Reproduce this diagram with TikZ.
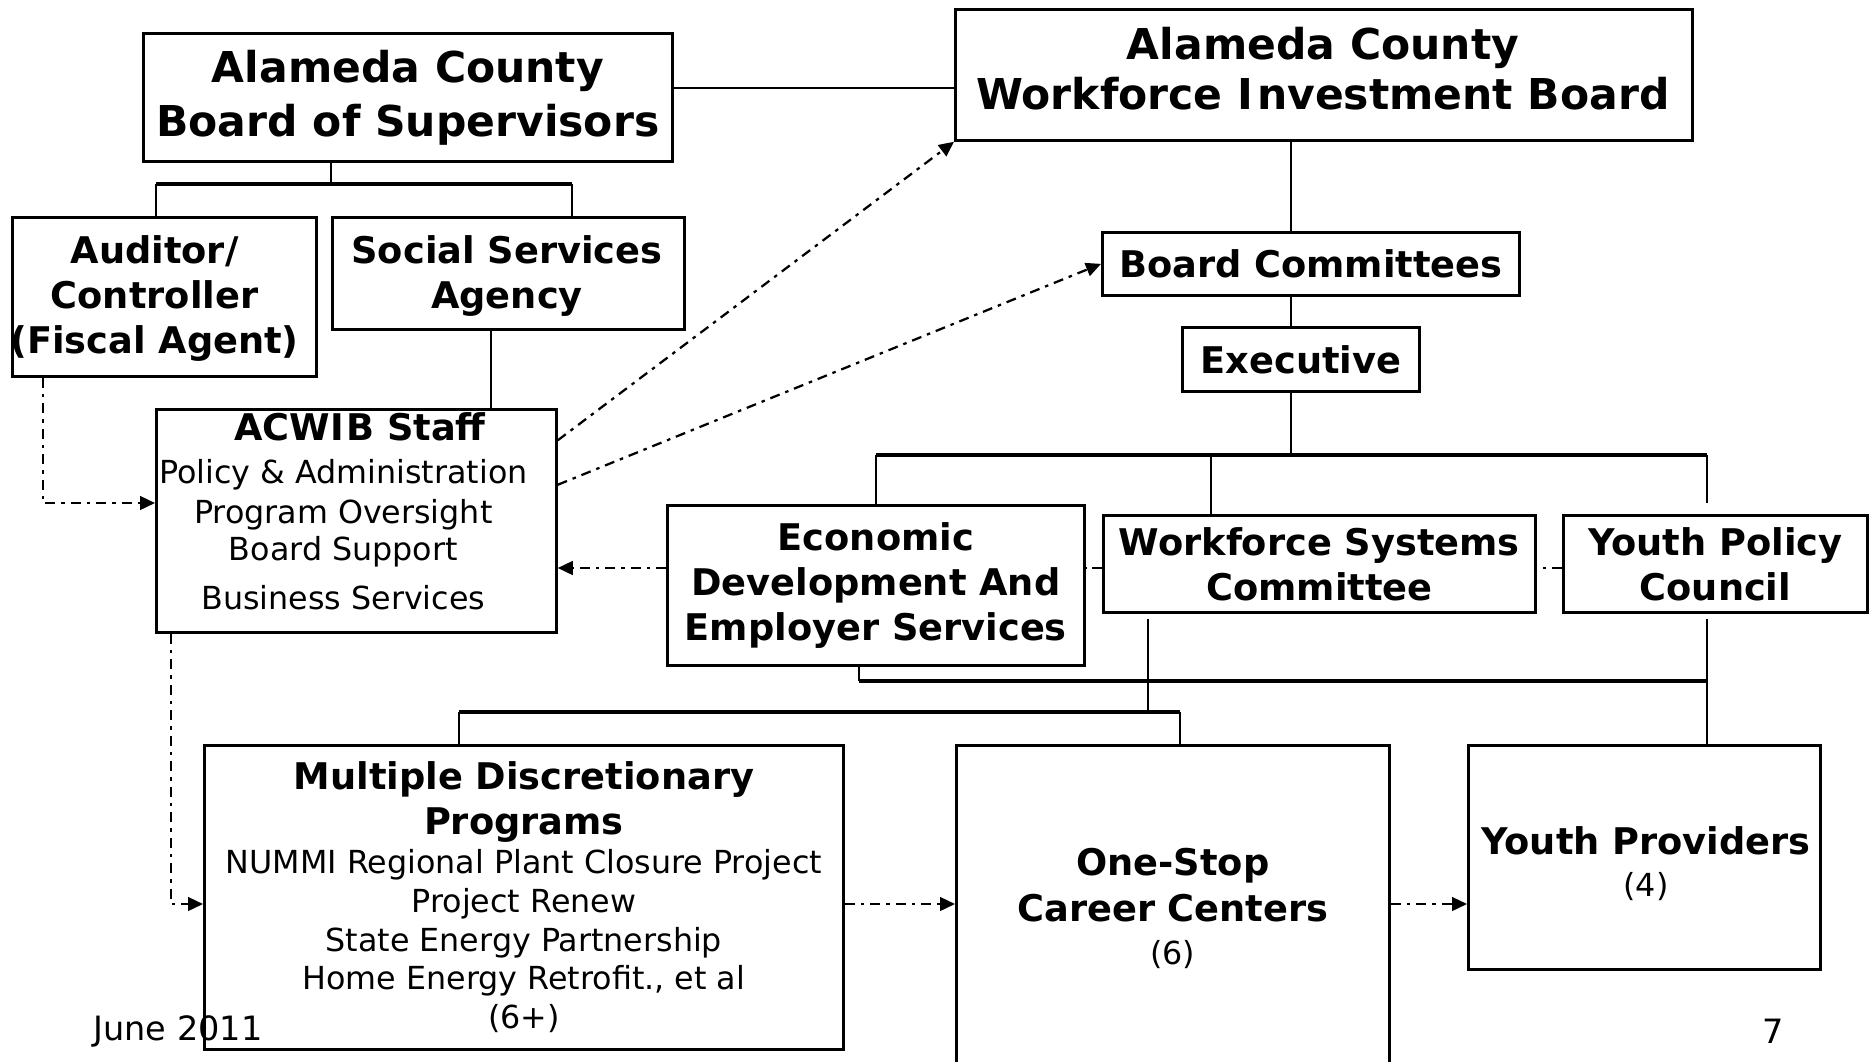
\documentclass[tikz,border=0pt]{standalone}
\usepackage{fontspec}
\setmainfont{DejaVu Sans}
\usetikzlibrary{arrows.meta,calc}
\newcommand\mybold{\bfseries\fontsize{14.7}{18}\selectfont}
\tikzset{
 box/.style={draw, line width=1.1pt, inner sep=0pt, anchor=north west, align=center},
 txt/.style={inner sep=0pt, align=center},
 ttl/.style={font=\bfseries\fontsize{17}{21}\selectfont},
 bld/.style={font=\bfseries\fontsize{14.7}{18}\selectfont},
 reg/.style={font=\fontsize{12.7}{15.5}\selectfont},
 conn/.style={line width=1.1pt},
 bar/.style={line width=1.5pt},
 dd/.style={line width=0.9pt, dash pattern=on 4pt off 2.4pt on 1.4pt off 2.4pt},
 arr/.style={-{Triangle[length=6pt,width=5.5pt]}},
 foot/.style={font=\fontsize{13.4}{16}\selectfont, inner sep=0pt},
}
\begin{document}
\begin{tikzpicture}[x=0.4pt,y=-0.4pt]
\useasboundingbox (0,0) rectangle (1875,1061);
\clip (0,0) rectangle (1875,1061);

% boxes
\node[box,ttl,minimum width=211.6pt,minimum height=51.2pt] (bos) at (142,32) {Alameda County\\[0.6pt]Board of Supervisors};
\node[box,minimum width=294.8pt,minimum height=52.4pt] (wib) at (954,8) {};
\node[txt,ttl] (wibtxt) at (1323,69) {Alameda County\\[-1pt]Workforce I\kern1.5pt nvestment Board};
\node[box,minimum width=121.6pt,minimum height=63.6pt] (aud) at (11,216) {};
\node[txt,bld] (audtxt) at (154.5,298) {Auditor/\\Controller\\(Fiscal Agent)};
\node[box,minimum width=140.8pt,minimum height=44.8pt] (ssa) at (331,216) {};
\node[txt,bld] (ssatxt) at (507,276) {Social Services\\Agency};
\node[box,minimum width=160pt,minimum height=89.2pt] (staff) at (155,408) {};
\node[txt,bld,anchor=base] (stafft) at (360,440) {ACWI\kern1pt B Staff};
\node[txt,reg,anchor=base] (staff1) at (343.3,483) {Policy \& Administration};
\node[txt,reg,anchor=base] (staff2) at (343.3,523) {Program Oversight};
\node[txt,reg,anchor=base] (staff3) at (343.3,560) {Board Support};
\node[txt,reg,anchor=base] (staff4) at (343.3,609) {Business Services};
\node[box,bld,minimum width=166.8pt,minimum height=25.2pt] (bc) at (1101,231) {Board Committees};
\node[box,bld,minimum width=94.8pt,minimum height=25.6pt] (exec) at (1181,326) {Executive};
\node[box,bld,minimum width=166.8pt,minimum height=64pt] (econ) at (666,504) {Economic\\Development And\\Employer Services};
\node[box,bld,minimum width=172.8pt,minimum height=38.8pt] (wsc) at (1102,514) {Workforce Systems\\Committee};
\node[box,bld,minimum width=121.6pt,minimum height=38.8pt] (ypc) at (1562,514) {Youth Policy\\Council};
\node[box,reg,minimum width=255.6pt,minimum height=121.6pt] (mdp) at (203,744) {{\mybold Multiple Discretionary}\\[2.5pt]{\mybold Programs}\\NUMMI Regional Plant Closure Project\\Project Renew\\State Energy Partnership\\Home Energy Retrofit., et al\\(6+)};
\node[box,reg,minimum width=173.2pt,minimum height=130.4pt] (osc) at (955,744) {{\mybold One-Stop}\\[2.9pt]{\mybold Career Centers}\\[1.7pt](6)};
\node[box,minimum width=140.8pt,minimum height=89.6pt] (yp) at (1467,744) {};
\node[txt,reg] (yptxt) at (1646,863.5) {{\mybold Youth Providers}\\[1.3pt](4)};

% left tree
\coordinate (xa) at (331,184);
\coordinate (bl) at (156,184);
\coordinate (br) at (572,184);
\draw[conn] (bos.south -| xa) -- (xa);
\draw[bar] (bl) -- (br);
\draw[conn] (bl) -- (aud.north -| bl);
\draw[conn] (br) -- (ssa.north -| br);
\coordinate (xs) at (491,370);
\draw[conn] (ssa.south -| xs) -- (staff.north -| xs);
\coordinate (yb) at (0,88);
\draw[conn] (bos.east |- yb) -- (wib.west |- yb);

% dash-dot links
\coordinate (ad) at (43,503);
\draw[dd,arr] (aud.south -| ad) |- (staff.west |- ad);
\draw[dd,arr] ($(staff.north east)!0.143!(staff.south east)$) -- (wib.south west);
\draw[dd,arr] ($(staff.north east)!0.34!(staff.south east)$) -- (bc.west);
\coordinate (yd) at (0,568);
\draw[dd] (ypc.west |- yd) -- (wsc.east |- yd);
\draw[dd] (wsc.west |- yd) -- (econ.east |- yd);
\draw[dd,arr] (econ.west |- yd) -- (staff.east |- yd);

% right tree
\coordinate (xv) at (1291,0);
\draw[conn] (wib.south -| xv) -- (bc.north -| xv);
\draw[conn] (bc.south -| xv) -- (exec.north -| xv);
\coordinate (jt) at (1291,455);
\draw[conn] (exec.south -| xv) -- (jt);
\coordinate (t1) at (876,455);
\coordinate (t2) at (1211,455);
\coordinate (t3) at (1707,455);
\draw[bar] (t1) -- (t3);
\draw[conn] (t1) -- (econ.north -| t1);
\draw[conn] (t2) -- (wsc.north -| t2);
\draw[conn] (t3) -- ($(ypc.north -| t3)+(0,-11)$);

% lower tree
\coordinate (u1) at (859,681);
\coordinate (u2) at (1707,681);
\draw[conn] (econ.south -| u1) -- (u1);
\draw[bar] (u1) -- (u2);
\draw[conn] ($(ypc.south -| u2)+(0,5)$) -- (yp.north -| u2);
\coordinate (v0) at (1148,712);
\coordinate (v1) at (459,712);
\coordinate (v2) at (1180,712);
\draw[conn] ($(wsc.south -| v0)+(0,5)$) -- (v0);
\draw[bar] (v1) -- (v2);
\draw[conn] (v1) -- (mdp.north -| v1);
\draw[conn] (v2) -- (osc.north -| v2);

% bottom dash-dot links
\coordinate (yl) at (171,904);
\draw[dd,arr] (staff.south -| yl) |- (mdp.west |- yl);
\draw[dd,arr] (mdp.east |- yl) -- (osc.west |- yl);
\draw[dd,arr] (osc.east |- yl) -- (yp.west |- yl);

% footer
\node[foot] (date) at (178,1031) {June 2011};
\node[foot] (page) at (1773,1031) {7};
\end{tikzpicture}
\end{document}
